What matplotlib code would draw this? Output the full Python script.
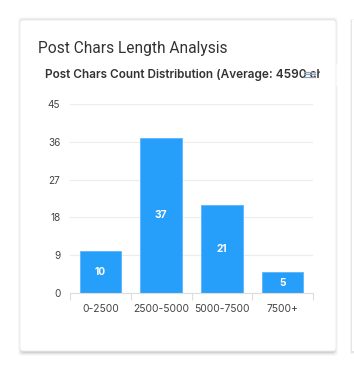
import matplotlib.pyplot as plt
from matplotlib.patches import FancyBboxPatch, Rectangle

categories = ['0-2500', '2500-5000', '5000-7500', '7500+']
counts = [10, 37, 21, 5]
yticks = [0, 9, 18, 27, 36, 45]

plt.rcParams['font.family'] = ['Inter', 'DejaVu Sans']

W, H = 354, 374
fig = plt.figure(figsize=(W / 100, H / 100), dpi=100)
fig.patch.set_facecolor('white')

def fx(px):
    return px / W

def fy(py):
    return 1 - py / H

# subtitle drawn first, then masked where it runs past the card
fig.text(fx(45), fy(75), 'Post Chars Count Distribution (Average: 4590 chars)',
         fontsize=8.5, color='#333333', fontweight='semibold', va='center', ha='left', zorder=0.5)
fig.patches.append(Rectangle((fx(320), fy(86)), fx(34), 22 / H, transform=fig.transFigure,
                             facecolor='white', edgecolor='none', zorder=0.6))

# soft card shadow
for d, a in [(4, 0.025), (3, 0.035), (2, 0.05), (1, 0.07)]:
    fig.patches.append(FancyBboxPatch((fx(20 - d + 2), fy(352 + d)), fx(316 + 2 * d - 4), (331 + 2 * d) / H,
                                      boxstyle='round,pad=0,rounding_size=0.01',
                                      transform=fig.transFigure, facecolor='black', alpha=a,
                                      edgecolor='none', zorder=0.1))
fig.patches.append(FancyBboxPatch((fx(20), fy(351)), fx(316), 331 / H, transform=fig.transFigure,
                                  boxstyle='round,pad=0,rounding_size=0.008',
                                  facecolor='white', edgecolor='none', zorder=0.2))
fig.patches.append(FancyBboxPatch((fx(20), fy(351)), fx(316), 331 / H, transform=fig.transFigure,
                                  boxstyle='round,pad=0,rounding_size=0.008',
                                  facecolor='none', edgecolor='#eaeaea', lw=0.6, zorder=1))
# neighbouring card edge
for d, a in [(2, 0.04), (1, 0.06)]:
    fig.patches.append(Rectangle((fx(352 - d), fy(352 + d)), fx(10), (331 + 2 * d) / H,
                                 transform=fig.transFigure, facecolor='black', alpha=a,
                                 edgecolor='none', zorder=0.7))
fig.patches.append(Rectangle((fx(352), fy(351)), fx(4), 331 / H, transform=fig.transFigure,
                             facecolor='white', edgecolor='none', zorder=0.8))

fig.text(fx(38), fy(48), 'Post Chars Length Analysis', fontsize=11.2, color='#333333',
         va='center', ha='left', family=['Roboto', 'DejaVu Sans'], zorder=3)
# menu icon
for dy in (-2.5, 0, 2.5):
    fig.lines.append(plt.Line2D([fx(304), fx(315)], [fy(74 + dy), fy(74 + dy)],
                                transform=fig.transFigure, color='#8fa0b3', lw=0.9, zorder=5))

ax = fig.add_axes([fx(70), fy(293), fx(243), (293 - 104) / H])
ax.set_zorder(3)
ax.patch.set_alpha(0)
x = range(len(categories))
ax.bar(x, counts, width=0.68, color='#269ffb', edgecolor='#5ab5fc', lw=0.6, zorder=2)
for xi, v in zip(x, counts):
    ax.text(xi, v / 2, str(v), ha='center', va='center', color='white',
            fontsize=7.3, fontweight='bold', zorder=3)

ax.set_xlim(-0.5, len(categories) - 0.5)
ax.set_ylim(0, 45)
ax.set_yticks(yticks)
ax.set_yticklabels([str(t) for t in yticks])
ax.grid(axis='y', color='#ececec', lw=0.8, zorder=0)
ax.set_xticks(list(x))
ax.set_xticklabels(categories)
ax.set_xticks([i - 0.5 for i in range(len(categories) + 1)], minor=True)
ax.tick_params(axis='x', which='major', length=0, pad=8, labelsize=7.4, labelcolor='#444444')
ax.tick_params(axis='x', which='minor', length=5, color='#dddddd', width=0.8)
ax.tick_params(axis='y', length=0, pad=7, labelsize=7.2, labelcolor='#444444')
for s in ['top', 'right', 'left']:
    ax.spines[s].set_visible(False)
ax.spines['bottom'].set_color('#dddddd')
ax.spines['bottom'].set_linewidth(0.8)

fig.savefig('out.png', dpi=100)
